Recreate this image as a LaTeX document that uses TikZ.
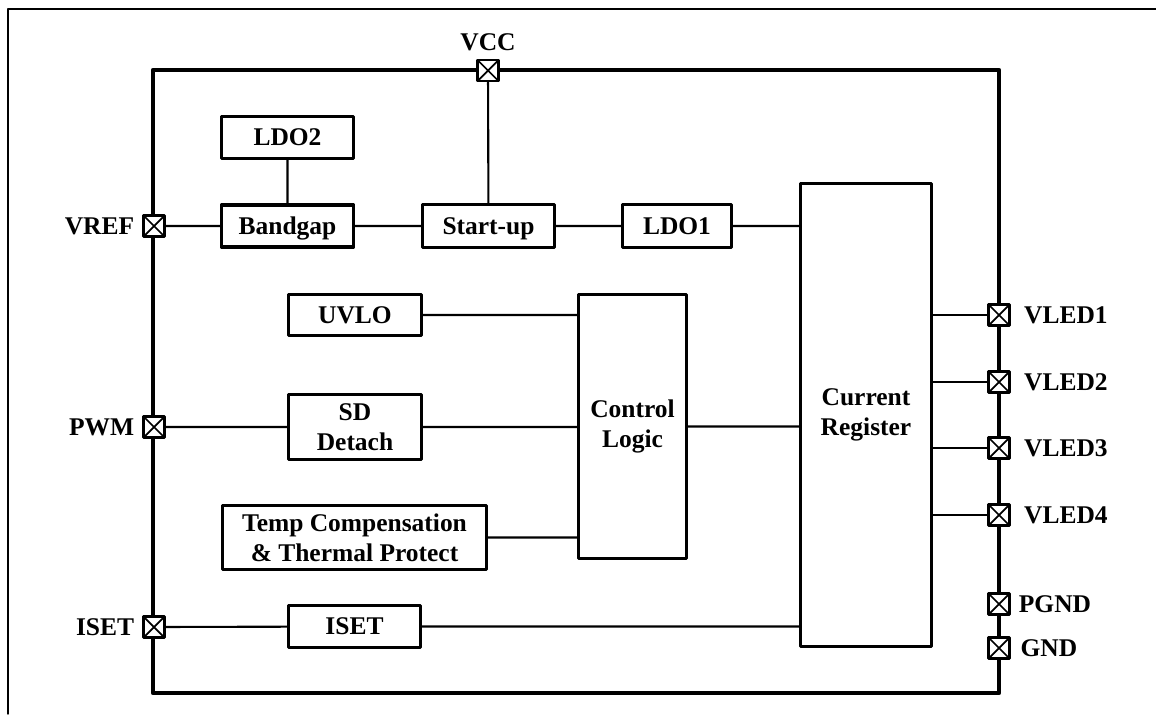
\documentclass[tikz,border=0pt]{standalone}
\usepackage{fontspec}
\setmainfont{Liberation Serif}
\begin{document}
\begin{tikzpicture}[x=0.02cm,y=-0.02cm,line join=round,line cap=round,
    font=\fontsize{14.5}{17}\selectfont\bfseries,
    blk/.style 2 args={draw,line width=1.9pt,fill=white,inner sep=0pt,
        minimum width=#1*0.02cm,minimum height=#2*0.02cm},
    one/.style={text height=9.6pt,text depth=0pt},
    two/.style={align=center},
    pin/.style={draw,line width=1.6pt,fill=white,minimum size=0.42cm,inner sep=0pt,
        path picture={\draw[line width=1pt](path picture bounding box.north west)--(path picture bounding box.south east)
            (path picture bounding box.north east)--(path picture bounding box.south west);}},
    wire/.style={line width=1.2pt}]
    \useasboundingbox (0,0) rectangle (1156,714);
    \draw[line width=0.8pt](8,714)--(8,9)--(1156,9);
    \draw[line width=2.5pt](153,70) rectangle (999,693);
    % blocks
    \node[blk={132}{42},one] (ldo2) at (287.5,137.5) {LDO2};
    \node[blk={132}{42},one] (bandgap) at (287.5,226) {Bandgap};
    \node[blk={132}{43},one] (startup) at (488.5,226) {Start-up};
    \node[blk={109}{43},one] (ldo1) at (677,226) {LDO1};
    \node[blk={131}{463},two] (creg) at (866,415) {Current\\Register};
    \node[blk={133}{41},one] (uvlo) at (355,315) {UVLO};
    \node[blk={133}{65},two] (sd) at (355,427) {SD\\Detach};
    \node[blk={108}{264},two] (ctrl) at (632.5,426.5) {Control\\Logic};
    \node[blk={264}{64},two] (temp) at (354.5,537.5) {Temp Compensation\\\& Thermal Protect};
    \node[blk={132}{42},one] (iset) at (354.5,626.5) {ISET};
    % pins
    \node[pin,label={[label distance=1pt]above:VCC}] (pVCC) at (488,70.5) {};
    \node[pin,label={[label distance=1pt]left:VREF}] (pVREF) at (154,226) {};
    \node[pin,label={[label distance=1pt]left:PWM}] (pPWM) at (154,427) {};
    \node[pin,label={[label distance=1pt]left:ISET}] (pISET) at (154,627) {};
    \foreach \n/\y in {1/315,2/382,3/448,4/515}
        \node[pin,label={[label distance=4pt]right:VLED\n}] (pVLED\n) at (999,\y) {};
    \node[pin,label={[label distance=1pt]right:PGND}] (pPGND) at (999,604) {};
    \node[pin,label={[label distance=2pt]right:GND}] (pGND) at (999,648) {};
    % wires
    \draw[wire]
    (pVCC)--(startup) (ldo2)--(bandgap)
    (pVREF)--(bandgap)--(startup)--(ldo1)--(ldo1-|creg.west)
    (uvlo)--(uvlo-|ctrl.west)
    (pPWM)--(sd)--(sd-|ctrl.west) (ctrl)--(ctrl-|creg.west)
    (temp)--(temp-|ctrl.west)
    (pISET)--(iset)--(iset-|creg.west)
    ;
    \foreach \n in {1,...,4}
        \draw[wire](pVLED\n-|creg.east)--(pVLED\n);
\end{tikzpicture}
\end{document}
